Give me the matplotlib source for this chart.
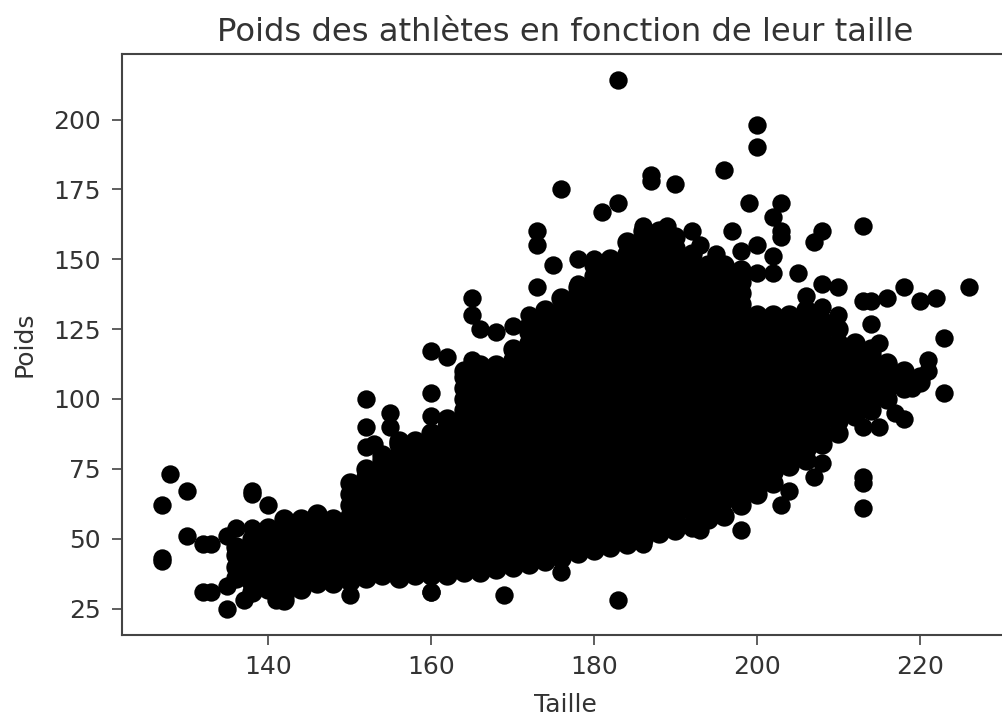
import matplotlib
matplotlib.use('Agg')
import matplotlib.pyplot as plt

# isolated athletes
taille_isoles = [183, 176, 187, 187, 190, 196, 183, 181, 173, 173, 175, 178, 180, 173, 165, 165, 166, 168, 170,
                 172, 178, 186, 189, 192, 193, 195, 200, 200, 199, 203, 202, 203, 203, 197, 200, 202, 213, 208,
                 207, 205, 208, 210, 206, 218, 216, 213, 214, 220, 222, 226, 223, 214, 215, 198, 200, 202, 208,
                 210, 208, 223, 221, 221, 219, 218, 217, 215, 213, 213, 213, 213, 208, 207, 204, 203, 198, 198,
                 195, 196, 193, 183, 169, 176, 186, 190, 192, 160, 127, 128, 130, 127, 127, 130, 132, 133, 136,
                 135, 138, 138, 138, 140, 132, 133, 135, 135, 137, 141, 142, 136, 137, 152, 152, 152, 153, 155,
                 155, 160, 160, 160, 150, 160, 162, 165, 164, 168, 170]
poids_isoles = [214, 175, 180, 178, 177, 182, 170, 167, 160, 155, 148, 150, 150, 140, 136, 130, 125, 124, 126,
                130, 141, 162, 162, 160, 155, 152, 198, 190, 170, 170, 165, 160, 158, 160, 155, 151, 162, 160,
                156, 145, 141, 140, 137, 140, 136, 135, 135, 135, 136, 140, 122, 127, 120, 153, 145, 145, 133,
                130, 125, 102, 114, 110, 104, 93, 95, 90, 90, 72, 70, 61, 77, 72, 67, 62, 53, 66,
                59, 59, 53, 28, 30, 38, 48, 54, 54, 31, 62, 73, 67, 42, 43, 51, 48, 48, 54,
                51, 67, 66, 54, 62, 31, 31, 25, 33, 28, 28, 28, 47, 42, 100, 90, 83, 84, 95,
                90, 117, 102, 94, 30, 31, 115, 114, 109, 110, 117]

# dense part of the cloud, weights per height
taille_masse = [136, 138, 140, 142, 144, 146, 148, 150, 152, 154, 156, 158, 160, 162, 164, 166, 168, 170, 172,
                174, 176, 178, 180, 182, 184, 186, 188, 190, 192, 194, 196, 198, 200, 202, 204, 206, 208, 210,
                212, 214, 216, 218, 220]
poids_masse = [
    [36, 40, 44, 47],
    [31, 34, 38, 42, 46, 50],
    [32, 36, 40, 44, 48, 52, 54],
    [28, 30, 34, 38, 42, 46, 50, 54, 57],
    [32, 36, 40, 44, 48, 52, 56, 57],
    [34, 38, 42, 46, 50, 54, 58, 59],
    [34, 36, 40, 44, 48, 52, 56, 57],
    [35, 38, 42, 46, 50, 54, 58, 62, 66, 70],
    [36, 40, 44, 48, 52, 56, 60, 64, 68, 72, 75],
    [37, 38, 42, 46, 50, 54, 58, 62, 66, 70, 74, 78, 80],
    [36, 40, 44, 48, 52, 56, 60, 64, 68, 72, 76, 80, 84, 85],
    [37, 38, 42, 46, 50, 54, 58, 62, 66, 70, 74, 78, 82, 85],
    [37, 40, 44, 48, 52, 56, 60, 64, 68, 72, 76, 80, 84, 88],
    [37, 38, 42, 46, 50, 54, 58, 62, 66, 70, 74, 78, 82, 86, 90, 93],
    [38, 40, 44, 48, 52, 56, 60, 64, 68, 72, 76, 80, 84, 88, 92, 96, 100, 104, 108, 110],
    [38, 42, 46, 50, 54, 58, 62, 66, 70, 74, 78, 82, 86, 90, 94, 98, 102, 106, 110, 112],
    [39, 40, 44, 48, 52, 56, 60, 64, 68, 72, 76, 80, 84, 88, 92, 96, 100, 104, 108, 112],
    [40, 42, 46, 50, 54, 58, 62, 66, 70, 74, 78, 82, 86, 90, 94, 98, 102, 106, 110, 114, 118],
    [41, 44, 48, 52, 56, 60, 64, 68, 72, 76, 80, 84, 88, 92, 96, 100, 104, 108, 112, 116, 120, 124, 126],
    [42, 46, 50, 54, 58, 62, 66, 70, 74, 78, 82, 86, 90, 94, 98, 102, 106, 110, 114, 118, 122, 126, 130, 132],
    [43, 44, 48, 52, 56, 60, 64, 68, 72, 76, 80, 84, 88, 92, 96, 100, 104, 108, 112, 116, 120, 124, 128, 132, 136],
    [45, 46, 50, 54, 58, 62, 66, 70, 74, 78, 82, 86, 90, 94, 98, 102, 106, 110, 114, 118, 122, 126, 130, 134, 138, 140],
    [46, 48, 52, 56, 60, 64, 68, 72, 76, 80, 84, 88, 92, 96, 100, 104, 108, 112, 116, 120, 124, 128, 132, 136, 140, 144, 148],
    [47, 50, 54, 58, 62, 66, 70, 74, 78, 82, 86, 90, 94, 98, 102, 106, 110, 114, 118, 122, 126, 130, 134, 138, 142, 146, 150],
    [48, 52, 56, 60, 64, 68, 72, 76, 80, 84, 88, 92, 96, 100, 104, 108, 112, 116, 120, 124, 128, 132, 136, 140, 144, 148, 152, 156],
    [50, 54, 58, 62, 66, 70, 74, 78, 82, 86, 90, 94, 98, 102, 106, 110, 114, 118, 122, 126, 130, 134, 138, 142, 146, 150, 154, 158, 160],
    [52, 56, 60, 64, 68, 72, 76, 80, 84, 88, 92, 96, 100, 104, 108, 112, 116, 120, 124, 128, 132, 136, 140, 144, 148, 152, 156, 160],
    [53, 58, 62, 66, 70, 74, 78, 82, 86, 90, 94, 98, 102, 106, 110, 114, 118, 122, 126, 130, 134, 138, 142, 146, 150, 154, 158],
    [55, 60, 64, 68, 72, 76, 80, 84, 88, 92, 96, 100, 104, 108, 112, 116, 120, 124, 128, 132, 136, 140, 144, 148, 152],
    [57, 62, 66, 70, 74, 78, 82, 86, 90, 94, 98, 102, 106, 110, 114, 118, 122, 126, 130, 134, 138, 142, 146, 148],
    [58, 64, 68, 72, 76, 80, 84, 88, 92, 96, 100, 104, 108, 112, 116, 120, 124, 128, 132, 136, 140, 144, 148],
    [62, 66, 70, 74, 78, 82, 86, 90, 94, 98, 102, 106, 110, 114, 118, 122, 126, 130, 134, 138, 142, 146],
    [66, 68, 72, 76, 80, 84, 88, 92, 96, 100, 104, 108, 112, 116, 120, 124, 128, 130],
    [70, 74, 78, 82, 86, 90, 94, 98, 102, 106, 110, 114, 118, 122, 126, 130],
    [76, 80, 84, 88, 92, 96, 100, 104, 108, 112, 116, 120, 124, 128, 130],
    [78, 82, 86, 90, 94, 98, 102, 106, 110, 114, 118, 122, 126, 130, 132],
    [84, 88, 92, 96, 100, 104, 108, 112, 116, 120, 124, 128],
    [88, 92, 96, 100, 104, 108, 112, 116, 120, 125],
    [94, 98, 102, 106, 110, 114, 118, 120],
    [96, 100, 104, 108, 112, 116, 118],
    [100, 104, 108, 112, 113],
    [104, 108, 110],
    [106, 108],
]

ticks_x = [140, 160, 180, 200, 220]
ticks_y = [25, 50, 75, 100, 125, 150, 175, 200]

taille = []
poids = []
for t, valeurs in zip(taille_masse, poids_masse):
    taille += [t] * len(valeurs)
    poids += valeurs

plt.rcParams['font.family'] = 'DejaVu Sans'
fig = plt.figure(figsize=(10.03, 7.17), dpi=100)
ax = fig.add_axes([122 / 1003, 1 - 635 / 717, 887 / 1003, 581 / 717])
# the mass gets slightly larger dots so no gaps show between the columns
ax.scatter(taille, poids, color='black', s=215, linewidths=0)
ax.scatter(taille_isoles, poids_isoles, color='black', s=175, linewidths=0)
ax.set_xlim(122.05, 230.95)
ax.set_ylim(15.55, 223.45)
ax.set_xticks(ticks_x)
ax.set_yticks(ticks_y)
ax.tick_params(axis='x', labelsize=18, colors='#333333', length=7.2, width=1.1, pad=7.5)
ax.tick_params(axis='y', labelsize=18, colors='#333333', length=7.2, width=1.1, pad=8)
for s in ax.spines.values():
    s.set_linewidth(1.5)
    s.set_color('#444444')
ax.set_xlabel('Taille', fontsize=18, color='#333333', labelpad=10)
ax.set_ylabel('Poids', fontsize=18, color='#333333', labelpad=12)
ax.set_title('Poids des athlètes en fonction de leur taille', fontsize=23.2, color='#333333', pad=9.5)

fig.savefig('out.png', dpi=100)
